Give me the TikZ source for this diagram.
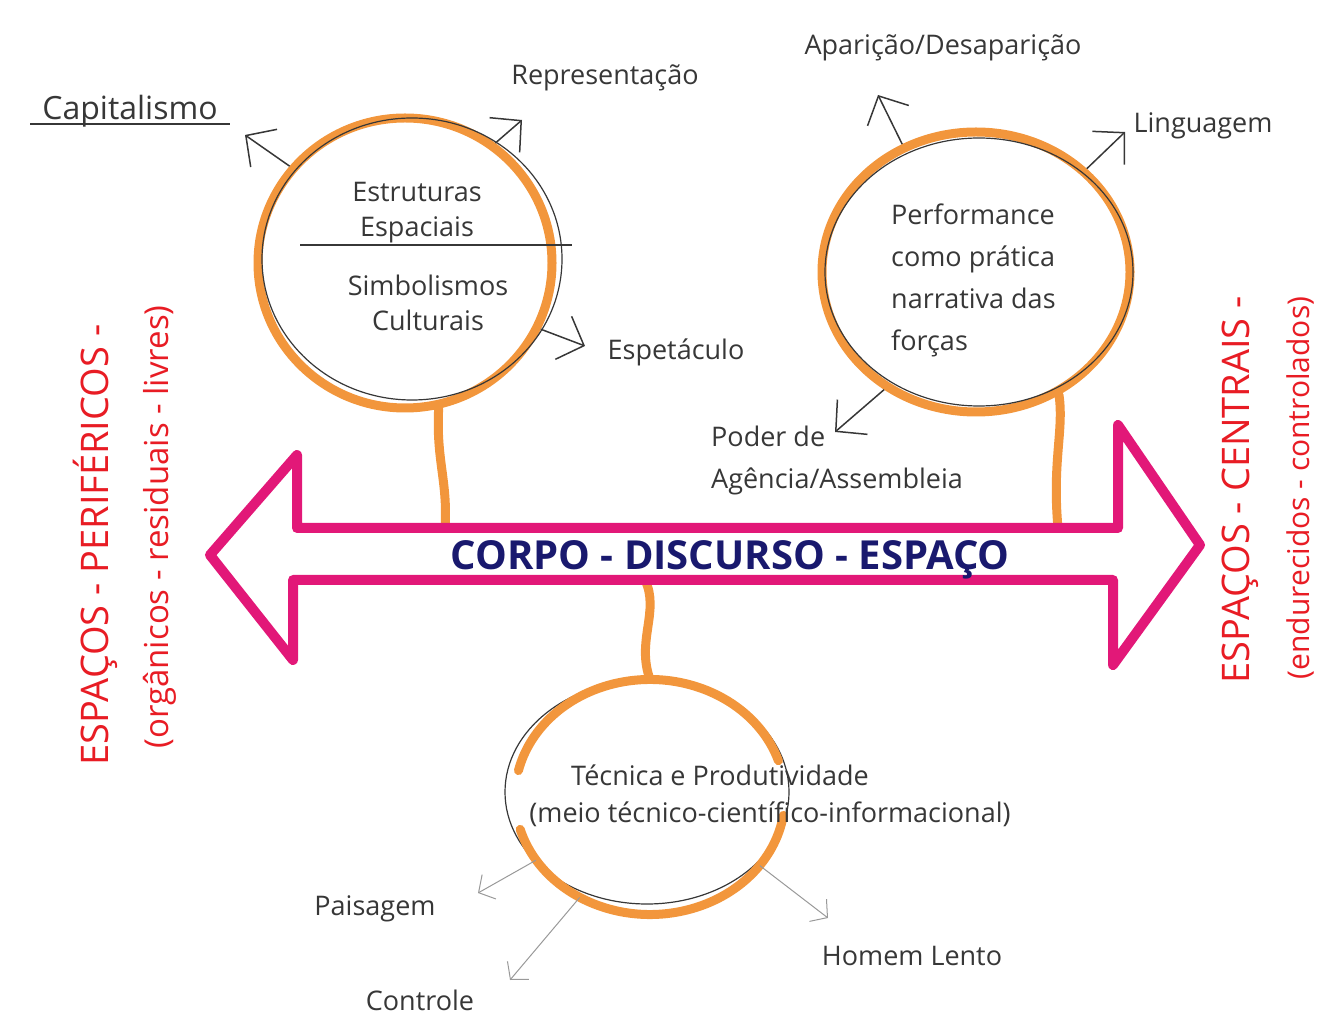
\documentclass[tikz,border=0pt]{standalone}
\usepackage{fontspec}
\setmainfont{Open Sans}
\usetikzlibrary{shapes.geometric, arrows.meta, positioning}

\definecolor{orangepen}{RGB}{242,150,60}
\definecolor{bandpink}{RGB}{226,24,120}
\definecolor{redpen}{RGB}{232,28,36}
\definecolor{navypen}{RGB}{25,25,110}
\definecolor{inkgray}{RGB}{55,55,55}

\begin{document}
\begin{tikzpicture}[x=1pt, y=1pt]
    \tikzstyle{bubble} = [ellipse, draw=orangepen, line width=9pt, inner sep=0pt]
    \tikzstyle{pencil} = [draw=inkgray, line width=1.2pt]
    \tikzstyle{hand} = [text=inkgray, font=\fontsize{27}{35}\selectfont, inner sep=1pt]
    \tikzstyle{arrow} = [inkgray, line width=1.5pt, -{Straight Barb[length=22pt, width=46pt]}]
    \tikzstyle{faint} = [gray!80, line width=1pt, -{Straight Barb[length=12pt, width=28pt]}]
    \tikzstyle{stem} = [orangepen, line width=9pt, line cap=round]
    \tikzstyle{band} = [draw=bandpink, line width=10pt, line join=round]
    \tikzstyle{side} = [text=redpen, rotate=90]

    \useasboundingbox (0,0) rectangle (1328,1021);

    % the three bubbles
    \node (estr) [bubble, minimum width=294, minimum height=290] at (405,758) {};
    \node (perf) [bubble, minimum width=308, minimum height=280] at (976,749) {};
    \node (tec) [ellipse, inner sep=0pt, minimum width=270, minimum height=235] at (650,224) {};

    \draw[pencil] ([shift={(7,4)}]estr.center) ellipse [x radius=150, y radius=141];
    \draw[pencil] ([shift={(3,0)}]perf.center) ellipse [x radius=154, y radius=134];
    \draw[pencil] ([shift={(-3,5)}]tec.center) ellipse [x radius=142, y radius=112];
    \draw[stem] ([shift={(18:135 and 117.5)}]tec.center) arc [start angle=18, end angle=167, x radius=135, y radius=117.5];
    \draw[stem] ([shift={(196:135 and 117.5)}]tec.center) arc [start angle=196, end angle=351, x radius=135, y radius=117.5];
    \draw[pencil] (300,776) -- (572,776);

    \node (estrTop) [hand, align=center, anchor=base] at (417,784) {Estruturas\\Espaciais};
    \node (estrBot) [hand, align=center, anchor=base] at (428,690) {Simbolismos\\Culturais};
    \node (perfText) [hand, align=left, anchor=north west, font=\fontsize{27}{42}\selectfont] at (890,818) {Performance\\como prática\\narrativa das\\forças};
    \node (tecTitle) [hand, anchor=base] at (720,236) {Técnica e Produtividade};
    \node (tecSub) [hand, anchor=base] at (770,199) {(meio técnico-científico-informacional)};

    % labels round the bubbles
    \node (capit) [hand, anchor=base, font=\fontsize{32}{38}\selectfont] at (130,901) {Capitalismo};
    \node (repr) [hand, anchor=base] at (605,936) {Representação};
    \node (espet) [hand, anchor=base] at (676,661) {Espetáculo};
    \node (apar) [hand, anchor=base] at (943,966) {Aparição/Desaparição};
    \node (lingua) [hand, anchor=base] at (1203,888) {Linguagem};
    \node (poder) [hand, align=left, anchor=north west, font=\fontsize{27}{42}\selectfont] at (710,596) {Poder de\\Agência/Assembleia};
    \node (pais) [hand, anchor=base] at (375,106) {Paisagem};
    \node (contr) [hand, anchor=base] at (420,11) {Controle};
    \node (homem) [hand, anchor=base] at (912,56) {Homem Lento};
    \draw[pencil] ([xshift=-100pt, yshift=-4pt]capit.base) -- ([xshift=100pt, yshift=-4pt]capit.base);

    \coordinate (capEnd) at (245,886);
    \coordinate (reprEnd) at (522,901);
    \coordinate (espetEnd) at (585,675);
    \coordinate (aparEnd) at (878,926);
    \coordinate (linguaEnd) at (1125,889);
    \coordinate (poderEnd) at (835,589);
    \coordinate (paisEnd) at (478,128);
    \coordinate (contrEnd) at (510,41);
    \coordinate (homemEnd) at (828,103);

    \draw[arrow] (estr.140) -- (capEnd);
    \draw[arrow] (estr.53) -- (reprEnd);
    \draw[arrow] (estr.-26) -- (espetEnd);
    \draw[arrow] (perf.120) -- (aparEnd);
    \draw[arrow] (perf.43) -- (linguaEnd);
    \draw[arrow] (perf.-128) -- (poderEnd);
    \draw[faint] (tec.209) -- (paisEnd);
    \draw[faint] (tec.235) -- (contrEnd);
    \draw[faint] (tec.-32) -- (homemEnd);

    % stems down to the band
    \coordinate (bandL) at (445,493);
    \coordinate (bandR) at (1058,493);
    \coordinate (bandB) at (645,441);
    \draw[stem] (estr.-77) .. controls (436,560) and (448,540) .. (bandL);
    \draw[stem] (perf.-56) .. controls (1064,590) and (1052,560) .. (bandR);
    \draw[stem] (bandB) .. controls (660,410) and (636,380) .. (tec.north);

    % the double arrow
    \draw[band] (297,493) -- (297,566) -- (210,466) -- (293,361) -- (293,441) -- (1113,441)
        -- (1113,356) -- (1200,476) -- (1118,596) -- (1118,493) -- cycle;
    \node (axis) [text=navypen, anchor=base, font=\fontsize{40}{48}\selectfont\bfseries] at (730,451) {CORPO - DISCURSO - ESPAÇO};

    % the two sides
    \node (peri) [side, font=\fontsize{38}{44}\selectfont] at (95,476) {ESPAÇOS - PERIFÉRICOS -};
    \node (periSub) [side, font=\fontsize{33}{40}\selectfont] at (160,494) {(orgânicos - residuais - livres)};
    \node (cent) [side, font=\fontsize{38}{44}\selectfont] at (1240,531) {ESPAÇOS - CENTRAIS -};
    \node (centSub) [side, font=\fontsize{30}{36}\selectfont] at (1300,533) {(endurecidos - controlados)};
\end{tikzpicture}
\end{document}
